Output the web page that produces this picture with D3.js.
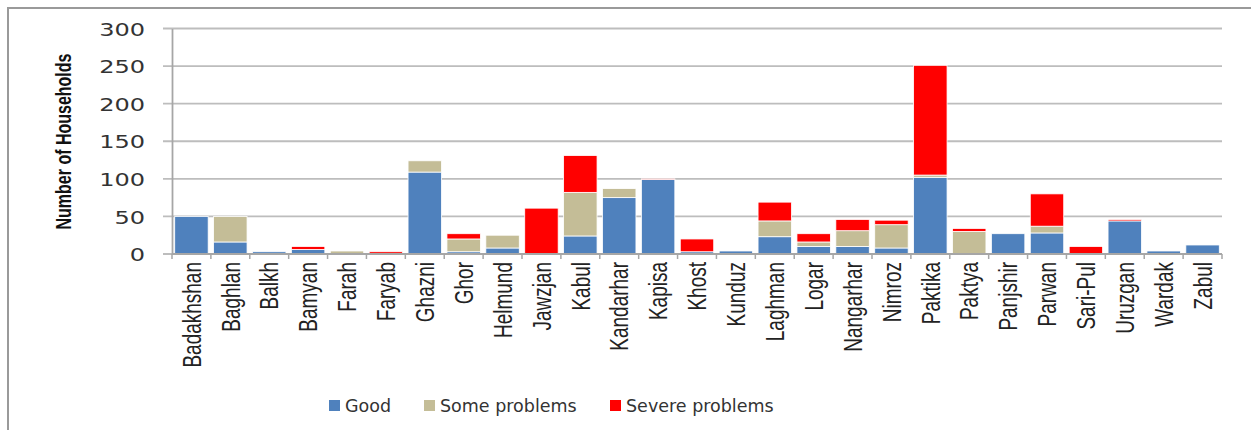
<!DOCTYPE html>
<html>
<head>
<meta charset="utf-8">
<script src="https://cdn.jsdelivr.net/npm/d3@7"></script>
<style>
  body { margin: 0; background: #fff; }
  svg { display: block; }
</style>
</head>
<body>
<div id="chart"></div>
<script>
// provinces, left to right
const provinces = ["Badakhshan", "Baghlan", "Balkh", "Bamyan", "Farah", "Faryab", "Ghazni", "Ghor",
    "Helmund", "Jawzjan", "Kabul", "Kandarhar", "Kapisa", "Khost", "Kunduz", "Laghman", "Logar",
    "Nangarhar", "Nimroz", "Paktika", "Paktya", "Panjshir", "Parwan", "Sari-Pul", "Uruzgan", "Wardak", "Zabul"]

// households per condition
const good =     [50, 16, 3, 6, 0, 0, 109, 3, 8, 0, 24, 75, 99, 3, 4, 23, 10, 10, 8, 102, 0, 27, 28, 0, 44, 4, 12]
const some =     [0, 34, 0, 0, 4, 0, 15, 17, 17, 0, 58, 12, 0, 0, 0, 21, 6, 21, 31, 3, 30, 0, 9, 0, 0, 0, 0]
const severe =   [0, 0, 0, 4, 0, 3, 0, 7, 0, 61, 49, 0, 1, 17, 0, 25, 11, 15, 6, 146, 4, 0, 43, 10, 2, 0, 0]

const seriesNames = ["Good", "Some problems", "Severe problems"]
const seriesColors = ["#4f81bd", "#c4bd97", "#ff0000"]
const yTicks = [0, 50, 100, 150, 200, 250, 300]

const WIDTH = 1251, HEIGHT = 430
const PLOT = { left: 172, right: 1222, top: 28.5, bottom: 254 }

let svg = d3.select("#chart")
    .append("svg")
    .attr("width", WIDTH)
    .attr("height", HEIGHT)

// outer chart frame (runs off the right and bottom edges)
svg.append("rect")
    .attr("x", 8).attr("y", 8)
    .attr("width", WIDTH).attr("height", HEIGHT)
    .attr("fill", "#fff")
    .attr("stroke", "#9a9a9a")
    .attr("stroke-width", 2)

let x = d3.scaleBand()
    .domain(provinces)
    .range([PLOT.left, PLOT.right])
    .paddingInner(0.14)
    .paddingOuter(0.07)

let xEdges = d3.scaleBand()
    .domain(provinces)
    .range([PLOT.left, PLOT.right])

let y = d3.scaleLinear()
    .domain([0, 300])
    .range([PLOT.bottom, PLOT.top])

// gridlines
svg.append("g")
    .selectAll("line")
    .data(yTicks)
    .enter()
    .append("line")
    .attr("x1", PLOT.left - 9)
    .attr("x2", PLOT.right)
    .attr("y1", d => y(d))
    .attr("y2", d => y(d))
    .attr("stroke", "#bdbdbd")
    .attr("stroke-width", 1.8)

// y axis, labels stretched a bit like the original
let yAxis = svg.append("g")
    .attr("transform", "translate(" + PLOT.left + ",0)")
    .call(d3.axisLeft(y).tickValues(yTicks).tickSize(0).tickPadding(0))
yAxis.select(".domain").attr("stroke", "#a6a6a6").attr("stroke-width", 1.8)
yAxis.selectAll("text")
    .attr("x", 0)
    .attr("dy", "0.36em")
    .attr("transform", "translate(-27,0) scale(1.3,1)")
    .style("font-family", "DejaVu Sans")
    .style("font-size", "18.5px")
    .attr("fill", "#333")

// y title
svg.append("text")
    .attr("transform", "translate(63.5,141.5) rotate(-90) scale(1,1.35)")
    .attr("text-anchor", "middle")
    .attr("dy", "0.35em")
    .style("font-family", "Liberation Sans")
    .style("font-weight", "bold")
    .style("font-size", "16px")
    .attr("fill", "#111")
    .text("Number of Households")

// stacked bars
let table = provinces.map((p, i) => ({ province: p, Good: good[i], "Some problems": some[i], "Severe problems": severe[i] }))
let stacked = d3.stack().keys(seriesNames)(table)

svg.append("g")
    .selectAll("g")
    .data(stacked)
    .enter()
    .append("g")
    .attr("fill", (d, i) => seriesColors[i])
    .selectAll("rect")
    .data(d => d.filter(s => s[1] - s[0] > 0))
    .enter()
    .append("rect")
    .attr("x", d => x(d.data.province))
    .attr("width", x.bandwidth())
    .attr("y", d => y(d[1]))
    .attr("height", d => y(d[0]) - y(d[1]))
    .attr("stroke", "#fff")
    .attr("stroke-width", 0.8)

// x axis line and ticks between categories
svg.append("line")
    .attr("x1", PLOT.left).attr("x2", PLOT.right)
    .attr("y1", PLOT.bottom).attr("y2", PLOT.bottom)
    .attr("stroke", "#a6a6a6").attr("stroke-width", 1.8)

svg.append("g")
    .selectAll("line")
    .data(provinces.concat(["end"]))
    .enter()
    .append("line")
    .attr("x1", (d, i) => PLOT.left + i * xEdges.step())
    .attr("x2", (d, i) => PLOT.left + i * xEdges.step())
    .attr("y1", PLOT.bottom)
    .attr("y2", PLOT.bottom + 5)
    .attr("stroke", "#a6a6a6").attr("stroke-width", 1.5)

// category labels, rotated
svg.append("g")
    .selectAll("text")
    .data(provinces)
    .enter()
    .append("text")
    .attr("transform", d => "translate(" + (x(d) + x.bandwidth() / 2) + ",262) rotate(-90) scale(1,1.35)")
    .attr("text-anchor", "end")
    .attr("dy", "0.36em")
    .style("font-family", "Liberation Sans")
    .style("font-size", "19px")
    .attr("fill", "#222")
    .text(d => d)

// legend
const legendX = [329, 424, 610]
let legend = svg.append("g")
    .selectAll("g")
    .data(seriesNames)
    .enter()
    .append("g")
    .attr("transform", (d, i) => "translate(" + legendX[i] + ",400)")

legend.append("rect")
    .attr("width", 11).attr("height", 11)
    .attr("fill", (d, i) => seriesColors[i])

legend.append("text")
    .attr("x", 16)
    .attr("y", 5.5)
    .attr("dy", "0.36em")
    .style("font-family", "DejaVu Sans")
    .style("font-size", "17.5px")
    .attr("fill", "#333")
    .text(d => d)
</script>
</body>
</html>
